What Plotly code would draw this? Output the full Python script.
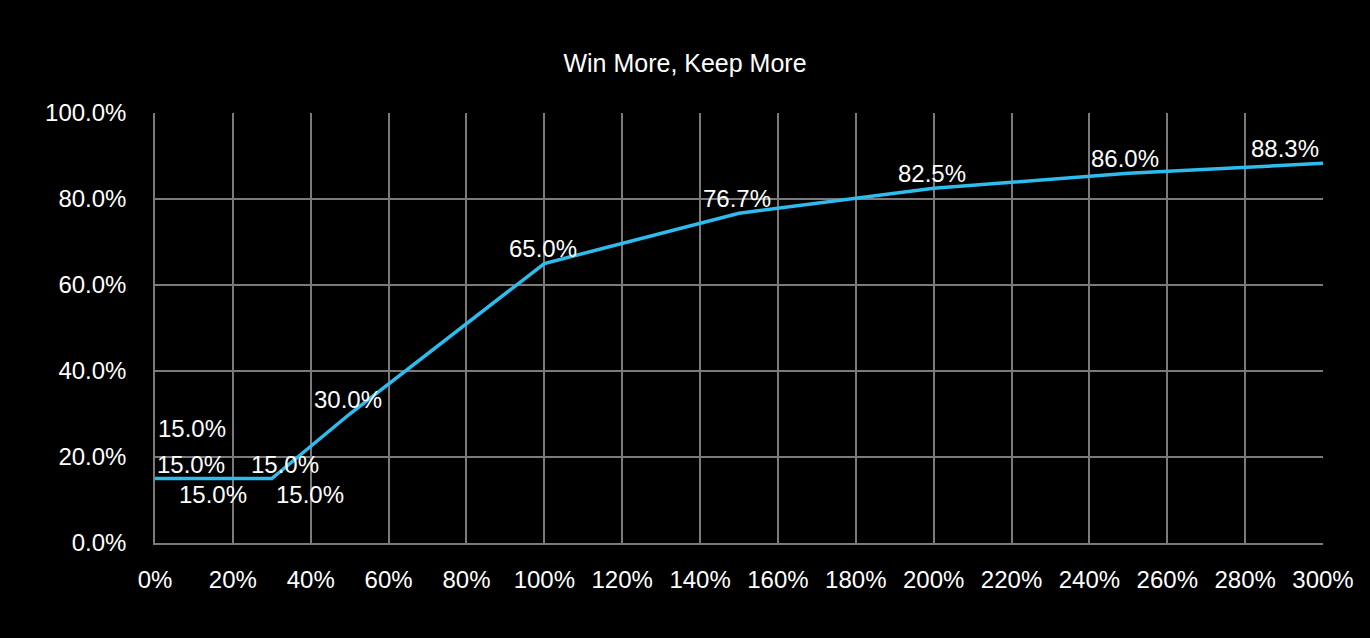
import plotly.graph_objects as go

# win ratio (%) vs share kept (%)
win_pct = [0, 5, 15, 25, 30, 50, 100, 150, 200, 250, 300]
keep_pct = [15.0, 15.0, 15.0, 15.0, 15.0, 30.0, 65.0, 76.7, 82.5, 86.0, 88.3]

x_ticks = list(range(0, 301, 20))
y_ticks = list(range(0, 101, 20))

# label placement (pixel offsets), one per point
lab_dx = [37, 17, 0, 33, 38, -2, -1, -2, -2, -3, -38]
lab_dy = [50, 14, -16, 14, -16, 15, 15, 15, 15, 15, 15]

LINE = '#2EBCEF'
GRID = '#7a7a7a'
FONT = 'Liberation Sans, Arial, sans-serif'

fig = go.Figure()
fig.add_trace(go.Scatter(
    x=win_pct, y=keep_pct,
    mode='lines',
    line=dict(color=LINE, width=3.5),
    hoverinfo='skip'))

for xv, yv, dx, dy in zip(win_pct, keep_pct, lab_dx, lab_dy):
    fig.add_annotation(
        x=xv, y=yv, text=f'{yv:.1f}%',
        showarrow=False, xshift=dx, yshift=dy,
        font=dict(family=FONT, size=24, color='white'))

fig.update_layout(
    width=1370, height=638,
    paper_bgcolor='black', plot_bgcolor='black',
    margin=dict(l=155, r=47, t=113, b=95),
    showlegend=False,
    title=dict(text='Win More, Keep More', x=0.5, xanchor='center',
               y=1 - 63 / 638, yanchor='middle',
               font=dict(family=FONT, size=25, color='white')),
    font=dict(family=FONT, size=24, color='white'))

fig.update_xaxes(
    range=[0, 300], tickvals=x_ticks,
    ticktext=[f'{v}%' for v in x_ticks],
    showgrid=True, gridcolor=GRID, gridwidth=1.5,
    showline=True, linecolor=GRID, linewidth=1.5, mirror=False,
    zeroline=False, ticks='', ticklabelstandoff=14)
fig.update_yaxes(
    range=[0, 100], tickvals=y_ticks,
    ticktext=[f'{v:.1f}%' for v in y_ticks],
    showgrid=True, gridcolor=GRID, gridwidth=1.5,
    showline=True, linecolor=GRID, linewidth=1.5,
    zeroline=False, ticks='', ticklabelstandoff=22)

fig.write_html('out.html', config={'displayModeBar': False},
               post_script="document.body.style.margin='0';")
